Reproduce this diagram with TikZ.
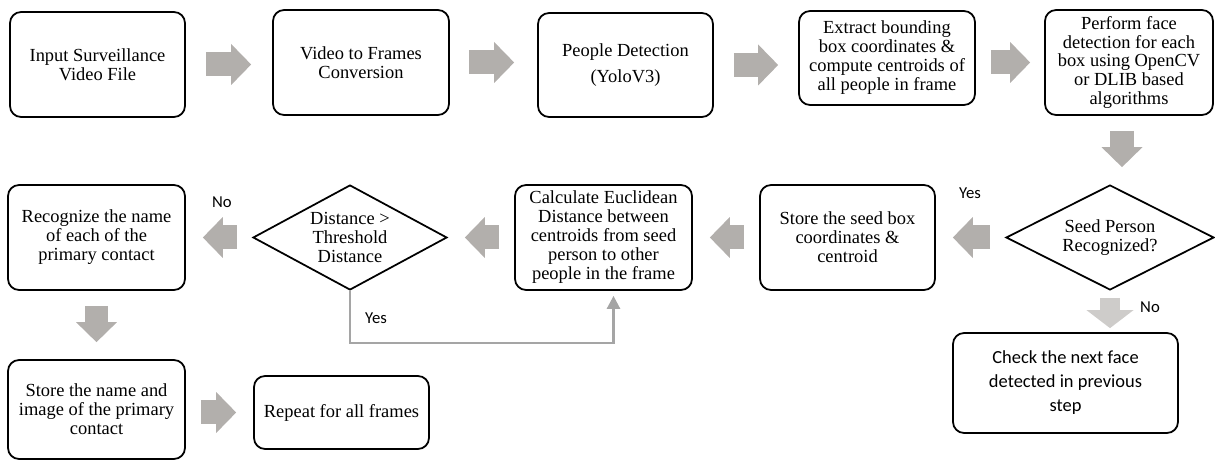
\documentclass[tikz,border=0pt]{standalone}
\usepackage{fontspec}
\setmainfont{Liberation Serif}
\newfontfamily\calibri{Carlito}
\usetikzlibrary{shapes.geometric}
\usetikzlibrary{arrows.meta}
\definecolor{arrowgray}{RGB}{178,175,172}
\definecolor{lightarrowgray}{RGB}{206,204,202}
\definecolor{linegray}{RGB}{165,165,165}

\begin{document}
\begin{tikzpicture}[x=0.02cm,y=-0.02cm,
    stepbox/.style={draw,rounded corners=0.22cm,line width=1pt,align=center,inner sep=2pt,font=\fontsize{10.5}{10.8}\selectfont},
    decision/.style={draw,diamond,aspect=2,line width=1pt,align=center,inner sep=0pt,font=\fontsize{10.5}{10.8}\selectfont},
    fatarrow/.style={draw=arrowgray,line width=0.48cm,-{Triangle[length=0.4cm,width=0.82cm,line width=0pt]},shorten <=0.3cm,shorten >=0.34cm},
    answer/.style={font=\calibri\fontsize{9.5}{11}\selectfont}]

    \useasboundingbox (0,0) rectangle (1215,462);

    % first row
    \node[stepbox,minimum width=3.5cm,minimum height=2.1cm] (input) at (97.5,64.5) {Input Surveillance\\Video File};
    \node[stepbox,minimum width=3.52cm,minimum height=2.1cm] (frames) at (361,62.5) {Video to Frames\\Conversion};
    \node[stepbox,minimum width=3.5cm,minimum height=2.08cm] (detect) at (625.5,65) {People Detection\\[4pt](YoloV3)};
    \node[stepbox,minimum width=3.52cm,minimum height=1.88cm] (extract) at (887,58) {Extract bounding\\box coordinates \&\\compute centroids of\\all people in frame};
    \node[stepbox,minimum width=3.36cm,minimum height=2.1cm] (face) at (1129,62.5) {Perform face\\detection for each\\box using OpenCV\\or DLIB based\\algorithms};

    % second row
    \node[decision,minimum width=4.16cm,minimum height=2.1cm] (seed) at (1110,237.5) {Seed Person\\Recognized?};
    \node[stepbox,minimum width=3.5cm,minimum height=2.1cm] (store) at (847.5,237.5) {Store the seed box\\coordinates \&\\centroid};
    \node[stepbox,minimum width=3.54cm,minimum height=2.1cm] (calc) at (603.5,237.5) {Calculate Euclidean\\Distance between\\centroids from seed\\person to other\\people in the frame};
    \node[decision,minimum width=3.88cm,minimum height=2.1cm] (dist) at (350,237.5) {Distance >\\Threshold\\Distance};
    \node[stepbox,minimum width=3.54cm,minimum height=2.1cm] (recog) at (96.5,237.5) {Recognize the name\\of each of the\\primary contact};
    \node[stepbox,minimum width=4.5cm,minimum height=2cm,font=\calibri\fontsize{10.5}{13.7}\selectfont] (check) at (1065.5,383) {Check the next face\\detected in previous\\step};

    % third row
    \node[stepbox,minimum width=3.54cm,minimum height=1.98cm] (storename) at (96.5,409.5) {Store the name and\\image of the primary\\contact};
    \node[stepbox,minimum width=3.5cm,minimum height=1.46cm] (repeat) at (341.5,412.5) {Repeat for all frames};

    % labels
    \node[answer] (yesseed) at (970,193) {Yes};
    \node[answer] (noseed) at (1150,307) {No};
    \node[answer] (nodist) at (222,202) {No};
    \node[answer] (yesdist) at (376,318) {Yes};

    \coordinate (facedown) at ([xshift=-0.14cm]face.south);

    \draw[fatarrow,shorten <=0.4cm,shorten >=0.42cm] (input.east) -- (input.east -| frames.west);
    \draw[fatarrow,shorten <=0.38cm,shorten >=0.46cm] (frames.east) -- (frames.east -| detect.west);
    \draw[fatarrow,shorten <=0.4cm,shorten >=0.4cm] (detect.east) -- (detect.east -| extract.west);
    \draw[fatarrow,shorten <=0.3cm,shorten >=0.28cm] (extract.east |- face.west) -- (face.west);
    \draw[fatarrow] (facedown) -- (facedown |- seed.north);
    \draw[fatarrow] (seed) -- (store);
    \draw[fatarrow] (store) -- (calc);
    \draw[fatarrow] (calc) -- (dist);
    \draw[fatarrow] (dist) -- (recog);
    \draw[fatarrow] (recog) -- (storename);
    \draw[fatarrow] (storename.east |- repeat.west) -- (repeat.west);
    \draw[fatarrow,draw=lightarrowgray,line width=0.4cm,-{Triangle[length=0.36cm,width=0.94cm,line width=0pt]},shorten <=0.14cm,shorten >=0.08cm] (seed.south) -- (seed.south |- check.north);
    \draw[draw=linegray,line width=0.05cm,-{Triangle[length=0.26cm,width=0.26cm]},shorten >=0.1cm] (dist.south) -- ++(0,52) -| ([xshift=0.2cm]calc.south);
\end{tikzpicture}
\end{document}
